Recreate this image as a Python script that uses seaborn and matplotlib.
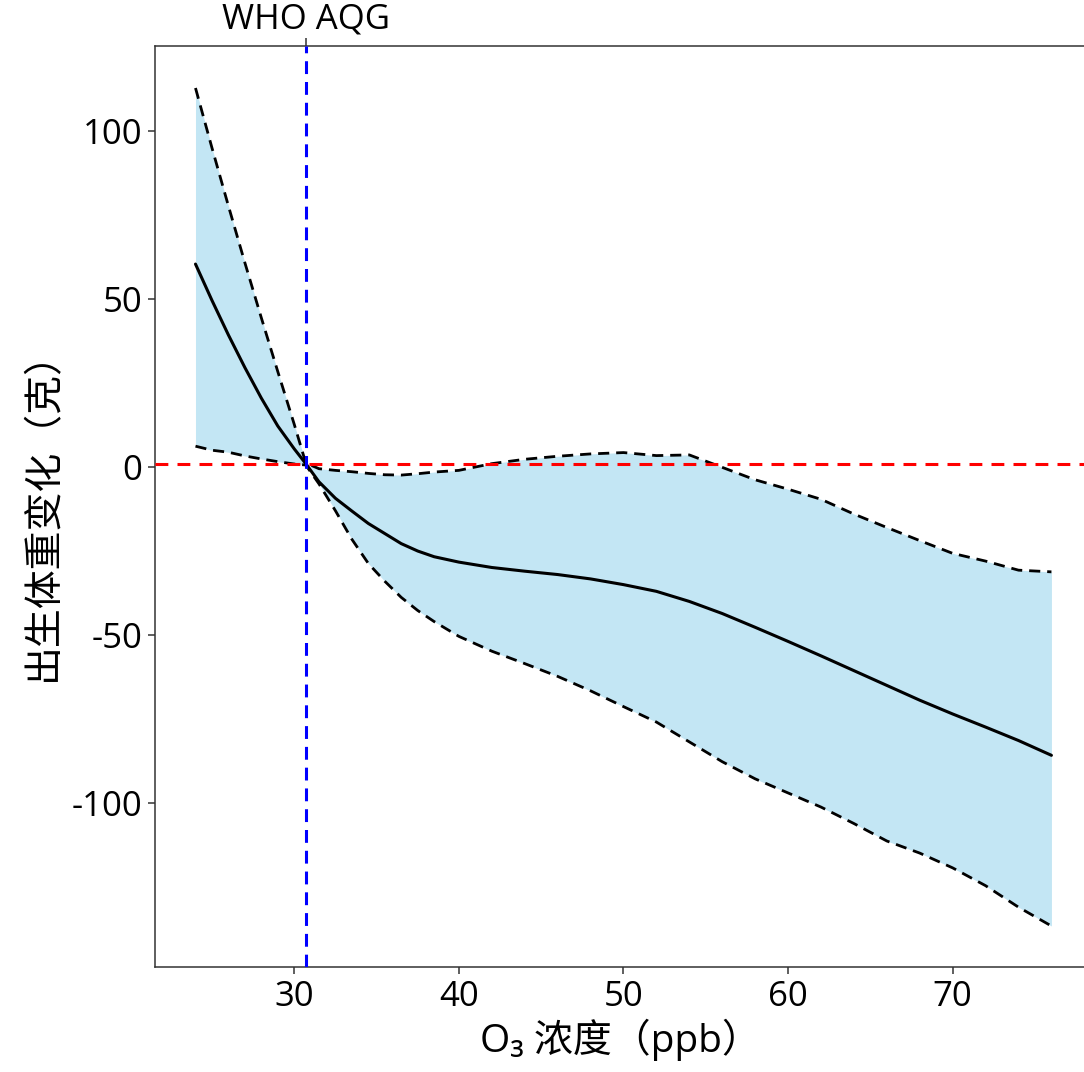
import numpy as np
import pandas as pd
import matplotlib
matplotlib.use("Agg")
import matplotlib.pyplot as plt
import seaborn as sns

# ---- data ----
o3 = [24, 25, 26, 27, 28, 29, 30, 30.7, 31.5, 32.5, 33.5, 34.5, 35.5, 36.5, 37.5, 38.5,
      40, 42, 44, 46, 48, 50, 52, 54, 56, 58, 60, 62, 64, 66, 68, 70, 72, 74, 76]
est = [60.4, 49.6, 39.3, 29.6, 20.5, 12.2, 5.4, 1.0, -4.4, -9.3, -13.1, -16.8, -19.8,
       -22.8, -25.0, -26.7, -28.3, -29.9, -31.0, -32.0, -33.3, -35.0, -37.0, -40.0,
       -43.6, -47.7, -51.9, -56.2, -60.6, -65.0, -69.4, -73.5, -77.4, -81.4, -85.8]
upper = [112.8, 95.0, 77.7, 60.8, 44.4, 28.4, 12.7, 1.2, -0.5, -1.0, -1.4, -1.9, -2.3,
         -2.4, -2.0, -1.5, -1.0, 1.0, 2.3, 3.2, 3.9, 4.3, 3.4, 3.6, -0.1, -3.8, -6.6,
         -9.6, -14.0, -18.0, -21.9, -25.7, -28.0, -30.7, -31.2]
lower = [6.2, 5.0, 4.4, 3.3, 2.4, 1.6, 0.9, 0.6, -5.0, -13.0, -21.5, -28.7, -34.0,
         -38.8, -42.7, -46.0, -50.4, -54.8, -58.5, -62.3, -66.6, -71.3, -75.9, -81.8,
         -87.7, -92.8, -97.0, -101.2, -106.1, -111.3, -114.9, -119.3, -124.6, -131.0,
         -136.6]
who_aqg = 30.7
ref_line = 0.9
x_ticks = [30, 40, 50, 60, 70]
y_ticks = [100, 50, 0, -50, -100]

df = pd.DataFrame({"o3": o3, "est": est, "upper": upper, "lower": lower})

sns.set_theme(style="white")
plt.rcParams["font.family"] = ["Open Sans", "Noto Sans CJK SC", "DejaVu Sans"]
plt.rcParams["axes.unicode_minus"] = False

fig = plt.figure(figsize=(10.84, 10.72), dpi=100)
ax = fig.add_axes([155 / 1084, 1 - 967 / 1072, 931 / 1084, (967 - 46) / 1072])

ax.fill_between(df["o3"], df["lower"], df["upper"], color="#C3E6F4", linewidth=0, zorder=1)
sns.lineplot(data=df, x="o3", y="upper", ax=ax, color="black", lw=2.0,
             linestyle=(0, (4, 2.5)), zorder=3)
sns.lineplot(data=df, x="o3", y="lower", ax=ax, color="black", lw=2.0,
             linestyle=(0, (4, 2.5)), zorder=3)
sns.lineplot(data=df, x="o3", y="est", ax=ax, color="black", lw=2.2, zorder=4)

ax.axhline(ref_line, color="#FF0000", lw=2.2, linestyle=(0, (4.2, 3.0)), zorder=5)
ax.axvline(who_aqg, color="#0000FF", lw=2.2, linestyle=(0, (4.2, 2.6)), zorder=5)

ax.set_xlim(21.54, 78.1)
ax.set_ylim(-148.8, 125.3)
ax.set_xticks(x_ticks)
ax.set_yticks(y_ticks)
ax.set_yticklabels([str(v) for v in y_ticks])

for side in ["left", "bottom", "top", "right"]:
    ax.spines[side].set_color("#333333")
    ax.spines[side].set_linewidth(1.1)
ax.tick_params(axis="both", which="major", direction="out", length=5, width=1.1,
               color="#333333", labelsize=25, labelcolor="black", pad=4,
               bottom=True, left=True)

sec = ax.secondary_xaxis("top")
sec.set_xticks([who_aqg])
sec.set_xticklabels(["WHO AQG"])
sec.tick_params(direction="out", length=6, width=1.1, color="#333333",
                labelsize=25, labelcolor="black", pad=1)
sec.spines["top"].set_visible(False)

ax.set_xlabel("O₃ 浓度（ppb）", fontsize=28, color="black", labelpad=4)
ax.set_ylabel("出生体重变化（克）", fontsize=28, color="black", labelpad=6)
ax.grid(False)

fig.savefig("out.png", dpi=100, facecolor="white")
